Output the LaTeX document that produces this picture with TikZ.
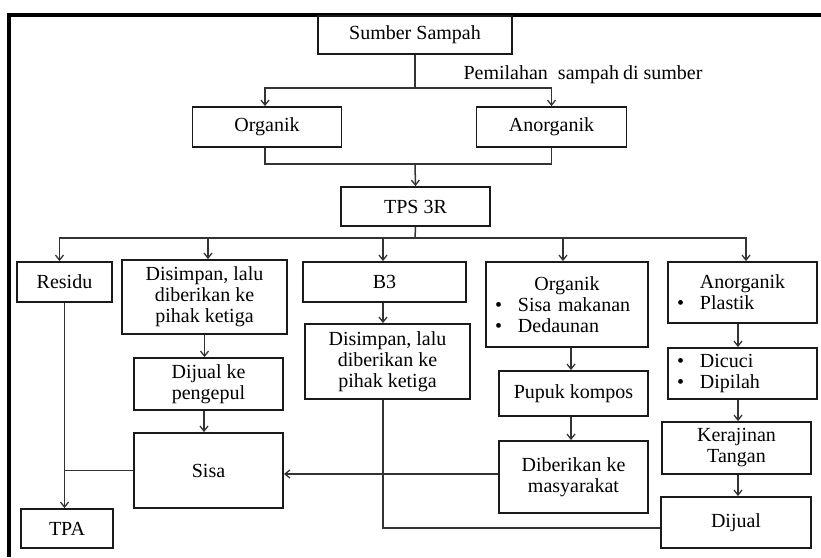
\documentclass[tikz,border=0pt]{standalone}
\usepackage{fontspec}
\setmainfont{Liberation Serif}
\usetikzlibrary{arrows.meta}
\definecolor{lineC}{HTML}{333333}
\definecolor{boxC}{HTML}{1A1A1A}
\tikzset{
  box/.style={draw=boxC, line width=1.8pt, rectangle, inner sep=0pt, align=center,
    font=\fontsize{20}{21}\selectfont, text=black},
  conn/.style={draw=lineC, line width=1.5pt},
  arr/.style={conn, -{Straight Barb[length=5pt,width=8pt,line width=1.3pt]}},
  bx/.style n args={2}{minimum width=#1pt, minimum height=#2pt},
}
\newcommand{\blt}[1]{\hspace*{9pt}\makebox[23pt][l]{\textbullet}#1}
\begin{document}
\begin{tikzpicture}[x=1pt,y=-1pt]
\useasboundingbox (0,0) rectangle (821,557);
\fill[white] (0,0) rectangle (821,557);
% frame
\draw[line width=4pt, miter limit=10] (8.5,557) -- (8.5,14.5) -- (821,14.5);

% nodes
\node[box, bx={194}{38}] (sumber) at (415,35) {Sumber Sampah};
\node[anchor=west, font=\fontsize{20}{21}\selectfont] (lbl) at (460,75) {Pemilahan\hspace{10pt}sampah\hspace{4pt}di sumber};
\node[box, bx={149}{40}] (org1) at (267,127) {Organik};
\node[box, bx={150}{40}] (anorg1) at (551.5,127) {Anorganik};
\node[box, bx={149}{39}] (tps) at (415.5,206.5) {TPS 3R};

\node[box, bx={95}{40}] (residu) at (64.5,282) {Residu};
\node[box, bx={165}{74}] (dis1) at (204.5,297) {Disimpan, lalu\\diberikan ke\\pihak ketiga};
\node[box, bx={163}{40}] (b3) at (384.5,282) {B3};
\node[box, bx={165}{75}] (dis2) at (387.5,361.5) {Disimpan, lalu\\diberikan ke\\pihak ketiga};
\node[box, bx={149}{52}] (jual1) at (208.5,384) {Dijual ke\\pengepul};
\node[box, bx={149}{75}] (sisa) at (208.5,470.5) {Sisa};
\node[box, bx={92}{39}] (tpa) at (67,528.5) {TPA};

\node[box, bx={162}{85}, text width=162pt, align=left] (org2) at (567,304.5)
  {\makebox[162pt]{Organik}\\\blt{Sisa makanan}\\\blt{Dedaunan}};
\node[box, bx={149}{45}] (pupuk) at (573.5,393.5) {Pupuk kompos};
\node[box, bx={149}{72}] (dib) at (573.5,477) {Diberikan ke\\masyarakat};

\node[box, bx={149}{61}, text width=149pt, align=left] (anorg2) at (742.5,292.5)
  {\makebox[149pt]{Anorganik}\\\blt{Plastik}};
\node[box, bx={149}{51}, text width=149pt, align=left] (cuci) at (742.5,373.5)
  {\blt{Dicuci}\\\blt{Dipilah}};
\node[box, bx={149}{52}] (kera) at (736.5,448) {Kerajinan\\Tangan};
\node[box, bx={150}{51}] (dijual) at (736,522.5) {Dijual};

% junctions
\coordinate (f1) at (415,88);
\coordinate (f2) at (415,164);
\coordinate (f3) at (415,238);

% top fork
\draw[conn] (sumber.south) -- (f1);
\draw[arr] (f1) -| ([xshift=-2pt]org1.north);
\draw[arr] (f1) -| (anorg1.north);
% merge
\draw[conn] ([xshift=-2pt]org1.south) |- (f2);
\draw[conn] (anorg1.south) |- (f2);
\draw[arr] (f2) -- (tps.north);
% bottom fork
\draw[conn] (tps.south) -- (f3);
\draw[arr] (f3) -| ([xshift=-5pt]residu.north);
\draw[arr] (f3) -| ([xshift=3.5pt]dis1.north);
\draw[arr] (f3) -| ([xshift=-1.5pt]b3.north);
\draw[arr] (f3) -| ([xshift=-4pt]org2.north);
\draw[arr] (f3) -| ([xshift=3.5pt]anorg2.north);

% left column
\draw[arr] (dis1.south) -- (dis1.south |- jual1.north);
\draw[arr] ([xshift=-4.5pt]jual1.south) -- ([xshift=-4.5pt]sisa.north);
\draw[arr] (residu.south) -- (residu.south |- tpa.north);
\draw[conn] (sisa.west) -- (sisa.west -| residu.south);

% middle
\draw[arr] ([xshift=-1.5pt]b3.south) -- ([xshift=-4.5pt]dis2.north);
\draw[conn] ([xshift=-4.5pt]dis2.south) |- ([yshift=-5.5pt]dijual.west);

% organik column
\draw[arr] ([xshift=4pt]org2.south) -- ([xshift=-2.5pt]pupuk.north);
\draw[arr] ([xshift=-2.5pt]pupuk.south) -- ([xshift=-2.5pt]dib.north);
\draw[arr] ([yshift=3pt]dib.west) -- ([yshift=3pt]dib.west -| sisa.east);

% anorganik column
\draw[arr] ([xshift=-4.5pt]anorg2.south) -- ([xshift=-4.5pt]cuci.north);
\draw[arr] ([xshift=-4.5pt]cuci.south) -- ([xshift=1.5pt]kera.north);
\draw[arr] ([xshift=1.5pt]kera.south) -- ([xshift=2pt]dijual.north);
\end{tikzpicture}
\end{document}
